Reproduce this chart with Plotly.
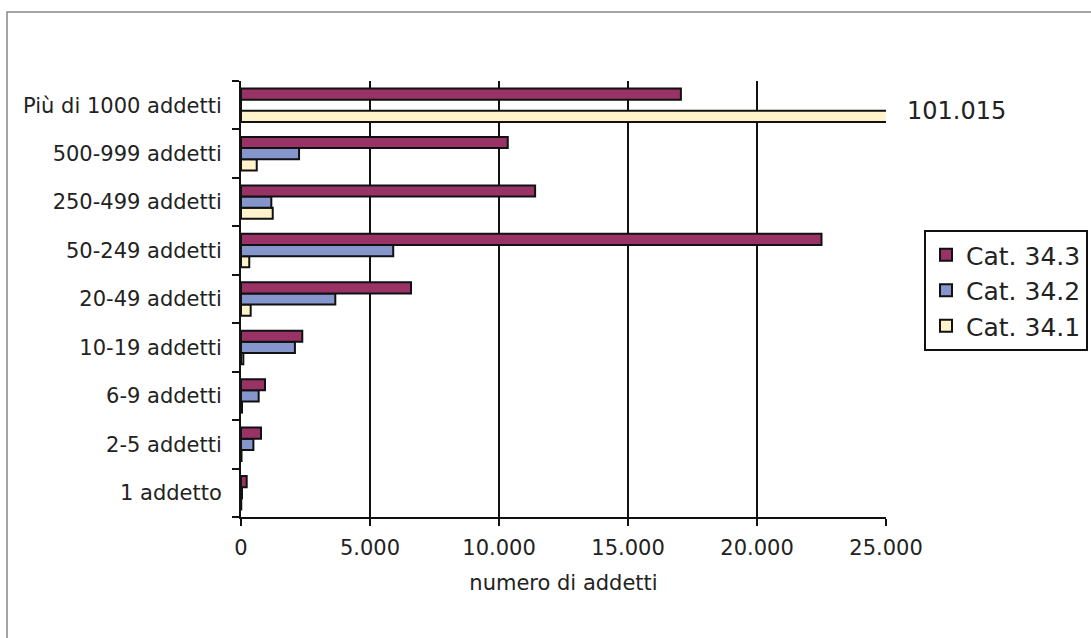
import plotly.graph_objects as go

categories = ["1 addetto", "2-5 addetti", "6-9 addetti", "10-19 addetti", "20-49 addetti",
              "50-249 addetti", "250-499 addetti", "500-999 addetti", "Più di 1000 addetti"]
cat_343 = [220, 775, 930, 2375, 6590, 22500, 11400, 10340, 17050]
cat_342 = [40, 480, 685, 2090, 3655, 5900, 1175, 2250, 0]
cat_341 = [10, 20, 40, 90, 375, 320, 1230, 610, 101015]
x_ticks = [0, 5000, 10000, 15000, 20000, 25000]
x_max = 25000

colors = {"Cat. 34.1": "#FFF3CC", "Cat. 34.2": "#8496CC", "Cat. 34.3": "#993366"}
FONT = "DejaVu Sans, Verdana, sans-serif"

fig = go.Figure()
for name, vals in [("Cat. 34.1", cat_341), ("Cat. 34.2", cat_342), ("Cat. 34.3", cat_343)]:
    fig.add_trace(go.Bar(
        y=categories, x=vals, orientation="h", name=name,
        marker=dict(color=colors[name], line=dict(color="#111111", width=2)),
    ))

W, H = 1091, 638
ml, mr, mt, mb = 241, 205, 81, 121
pw, ph = W - ml - mr, H - mt - mb

# clipped value label
big_idx = cat_341.index(max(cat_341))
big_label = f"{max(cat_341):,}".replace(",", ".")
fig.add_annotation(x=x_max, y=categories[big_idx], xref="x", yref="y", text=big_label,
                   showarrow=False, xanchor="left", xshift=19, yshift=-6,
                   font=dict(size=24, color="#222222", family=FONT))

# outer frame
fig.add_shape(type="rect", xref="paper", yref="paper",
              x0=(7 - ml) / pw, x1=(W + 10 - ml) / pw,
              y0=1 - (H + 10 - mt) / ph, y1=1 + (mt - 12) / ph,
              line=dict(color="#888888", width=1.5), layer="below")

fig.update_layout(
    width=W, height=H,
    margin=dict(l=ml, r=mr, t=mt, b=mb, autoexpand=False),
    paper_bgcolor="white", plot_bgcolor="white",
    barmode="group", bargap=0.31, bargroupgap=0,
    separators=",.",
    font=dict(family=FONT, size=21, color="#222222"),
    xaxis=dict(range=[0, x_max], tickvals=x_ticks, tickformat=",d",
               showgrid=True, gridcolor="#111111", gridwidth=2,
               showline=True, linecolor="#111111", linewidth=2,
               ticks="outside", ticklen=7, tickwidth=2, tickcolor="#111111",
               zeroline=False, automargin=False, ticklabelstandoff=4,
               title=dict(text="numero di addetti", standoff=16, font=dict(size=21)),
               tickfont=dict(size=21)),
    yaxis=dict(showgrid=False, showline=True, linecolor="#111111", linewidth=2,
               ticks="outside", tickson="boundaries", ticklen=7, tickwidth=2,
               tickcolor="#111111", tickfont=dict(size=21), automargin=False,
               ticklabelstandoff=13),
    legend=dict(x=(924 - ml) / pw, y=1 - (230 - mt) / ph, xanchor="left", yanchor="top",
                traceorder="reversed", bordercolor="#111111", borderwidth=2,
                font=dict(size=25), itemwidth=30, tracegroupgap=0,
                bgcolor="white"),
    showlegend=True,
)

fig.write_html("out.html", config={"displayModeBar": False},
               post_script="document.body.style.margin='0';")
